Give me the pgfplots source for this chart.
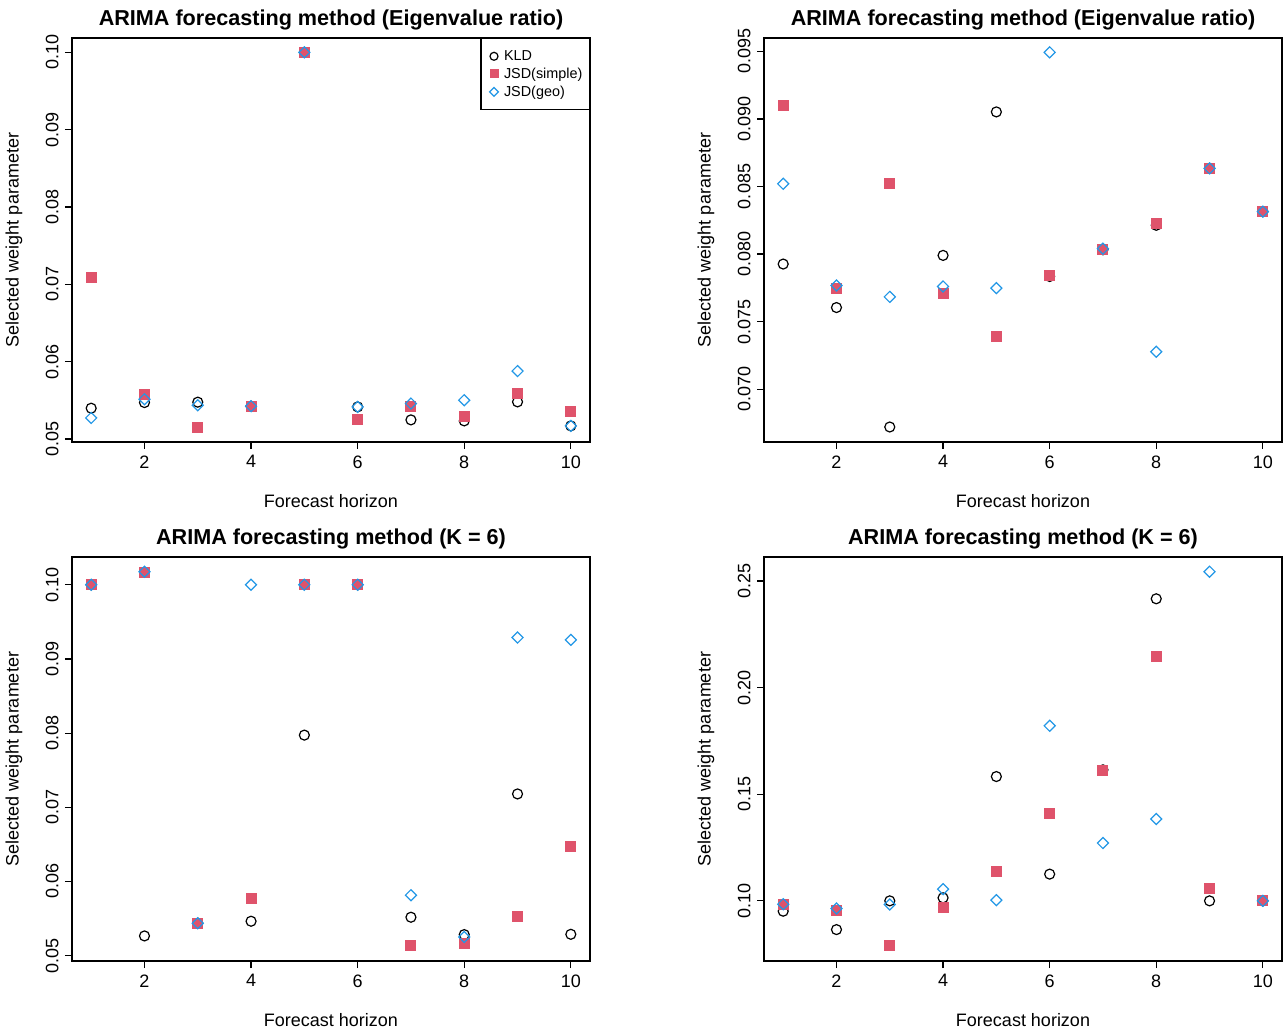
\documentclass[border=0pt]{standalone}
\usepackage{fontspec}
\setmainfont{Liberation Sans}
\usepackage{pgfplots}
\pgfplotsset{compat=1.18}
\definecolor{rred}{HTML}{DF536B}
\definecolor{rblue}{HTML}{2297E6}
\pgfplotsset{
  rpanel/.style={
    scale only axis, width=518pt, height=404pt,
    xmin=0.64, xmax=10.36,
    xtick={2,4,6,8,10},
    scaled y ticks=false,
    tick align=outside, major tick length=7pt,
    tick pos=left,
    axis line style={line width=1.2pt},
    every tick/.style={black, line width=1.2pt},
    /pgf/number format/assume math mode=true,
    tick label style={font=\fontsize{18}{21}\selectfont},
    label style={font=\fontsize{18}{21}\selectfont},
    xticklabel style={yshift=-3pt},
    yticklabel style={rotate=90, anchor=south, yshift=3pt},
    title style={font=\bfseries\fontsize{21.6}{25}\selectfont, at={(axis description cs:0.5,1.03)}, anchor=center},
    xlabel style={at={(axis description cs:0.5,-0.146)}, anchor=center},
    ylabel style={at={(axis description cs:-0.112,0.5)}, anchor=center},
    xlabel={Forecast horizon}, ylabel={Selected weight parameter},
  },
  kld/.style={only marks, mark=o, mark size=5pt, black, line width=1.2pt},
  simp/.style={only marks, mark=square*, mark size=5pt, color=rred, mark options={solid, draw=rred, fill=rred, line width=0pt}},
  geo/.style={only marks, mark=square, mark size=3.9pt, color=rblue, line width=1.2pt, mark options={rotate=45}},
}
\begin{document}
\begin{tikzpicture}
\useasboundingbox (0,0) rectangle (1285pt,1029pt);
% Panel 1
\begin{axis}[rpanel, at={(72pt,587pt)}, anchor=south west,
  title={ARIMA forecasting method (Eigenvalue ratio)},
  ymin=0.04961, ymax=0.10186,
  ytick={0.05,0.06,0.07,0.08,0.09,0.10},
  yticklabels={0.05,0.06,0.07,0.08,0.09,0.10},
  legend style={at={(axis description cs:1,1)}, anchor=north east, draw=black, line width=1.2pt,
    font=\fontsize{14.4}{17}\selectfont, inner xsep=5pt, inner ysep=10pt, row sep=2pt, cells={anchor=west}},
  legend image code/.code={\path[draw=none,fill=none] (0pt,-4pt) rectangle (16pt,4pt); \draw[#1, every mark/.append style={scale=0.8}] plot coordinates {(8pt,0pt)};},
]
\addplot[kld] coordinates {(1,0.05398) (2,0.05471) (3,0.05476) (4,0.05424) (5,0.10) (6,0.05415) (7,0.05247) (8,0.05234) (9,0.05480) (10,0.05169)};
\addlegendentry{KLD}
\addplot[simp] coordinates {(1,0.07093) (2,0.05575) (3,0.05147) (4,0.05424) (5,0.10) (6,0.05251) (7,0.05424) (8,0.05290) (9,0.05584) (10,0.05355)};
\addlegendentry{JSD(simple)}
\addplot[geo] coordinates {(1,0.05272) (2,0.05515) (3,0.05437) (4,0.05424) (5,0.10) (6,0.05415) (7,0.05458) (8,0.05502) (9,0.05878) (10,0.05169)};
\addlegendentry{JSD(geo)}
\end{axis}
% Panel 2
\begin{axis}[rpanel, at={(764pt,587pt)}, anchor=south west,
  title={ARIMA forecasting method (Eigenvalue ratio)},
  ymin=0.06609, ymax=0.09599,
  ytick={0.070,0.075,0.080,0.085,0.090,0.095},
  yticklabels={0.070,0.075,0.080,0.085,0.090,0.095},
]
\addplot[kld] coordinates {(1,0.07926) (2,0.07604) (3,0.06720) (4,0.07990) (5,0.09052) (6,0.07834) (7,0.08032) (8,0.08213) (9,0.08634) (10,0.08314)};
\addplot[simp] coordinates {(1,0.09099) (2,0.07748) (3,0.08520) (4,0.07710) (5,0.07391) (6,0.07844) (7,0.08032) (8,0.08228) (9,0.08634) (10,0.08314)};
\addplot[geo] coordinates {(1,0.08520) (2,0.07767) (3,0.07683) (4,0.07760) (5,0.07748) (6,0.09493) (7,0.08040) (8,0.07277) (9,0.08634) (10,0.08314)};
\end{axis}
% Panel 3
\begin{axis}[rpanel, at={(72pt,68pt)}, anchor=south west,
  title={ARIMA forecasting method (K = 6)},
  ymin=0.04928, ymax=0.10374,
  ytick={0.05,0.06,0.07,0.08,0.09,0.10},
  yticklabels={0.05,0.06,0.07,0.08,0.09,0.10},
]
\addplot[kld] coordinates {(1,0.10) (2,0.05266) (3,0.05437) (4,0.05464) (5,0.07973) (6,0.10) (7,0.05518) (8,0.05284) (9,0.07180) (10,0.05288)};
\addplot[simp] coordinates {(1,0.10) (2,0.10167) (3,0.05437) (4,0.05770) (5,0.10) (6,0.10) (7,0.05135) (8,0.05167) (9,0.05527) (10,0.06477)};
\addplot[geo] coordinates {(1,0.10) (2,0.10176) (3,0.05437) (4,0.10) (5,0.10) (6,0.10) (7,0.05815) (8,0.05252) (9,0.09288) (10,0.09257)};
\end{axis}
% Panel 4
\begin{axis}[rpanel, at={(764pt,68pt)}, anchor=south west,
  title={ARIMA forecasting method (K = 6)},
  ymin=0.07179, ymax=0.26129,
  ytick={0.10,0.15,0.20,0.25},
  yticklabels={0.10,0.15,0.20,0.25},
]
\addplot[kld] coordinates {(1,0.09514) (2,0.08652) (3,0.10) (4,0.10141) (5,0.15831) (6,0.11254) (7,0.16144) (8,0.24169) (9,0.10) (10,0.10)};
\addplot[simp] coordinates {(1,0.09828) (2,0.09545) (3,0.07884) (4,0.09687) (5,0.11379) (6,0.14107) (7,0.16097) (8,0.21442) (9,0.10580) (10,0.10)};
\addplot[geo] coordinates {(1,0.09843) (2,0.09640) (3,0.09828) (4,0.10549) (5,0.10031) (6,0.18213) (7,0.12712) (8,0.13840) (9,0.25439) (10,0.10)};
\end{axis}
\end{tikzpicture}
\end{document}
